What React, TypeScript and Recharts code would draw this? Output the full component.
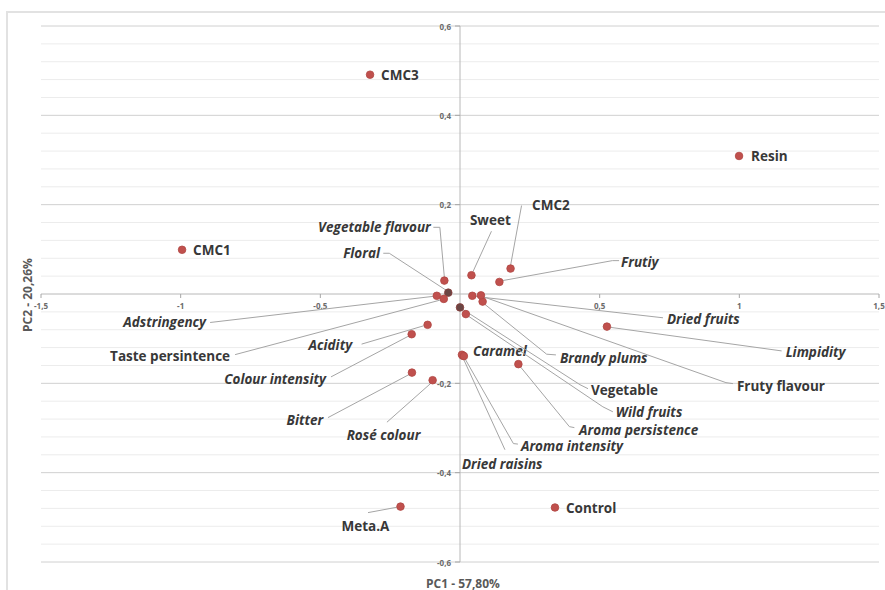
import React from 'react';
import { ScatterChart, Scatter, XAxis, YAxis, ReferenceLine } from 'recharts';

// ---- data ----
const names = [
  'CMC3', 'Resin', 'CMC1', 'CMC2', 'Frutiy', 'Sweet', 'Vegetable flavour', 'Floral',
  'Adstringency', 'Taste persintence', 'Acidity', 'Colour intensity', 'Bitter', 'Rosé colour',
  'Caramel', 'Dried raisins', 'Aroma intensity', 'Aroma persistence', 'Wild fruits', 'Vegetable',
  'Brandy plums', 'Dried fruits', 'Fruty flavour', 'Limpidity', 'Meta.A', 'Control',
];
const pc1 = [
  -0.322, 0.999, -0.995, 0.181, 0.141, 0.041, -0.056, -0.042,
  -0.083, -0.058, -0.116, -0.173, -0.172, -0.098,
  0.010, 0.007, 0.014, 0.209, 0.021, 0.000,
  0.081, 0.044, 0.075, 0.526, -0.213, 0.340,
];
const pc2 = [
  0.491, 0.309, 0.099, 0.057, 0.027, 0.042, 0.030, 0.003,
  -0.004, -0.011, -0.069, -0.090, -0.176, -0.193,
  -0.138, -0.136, -0.139, -0.157, -0.045, -0.030,
  -0.017, -0.004, -0.003, -0.073, -0.476, -0.478,
];

const xTickValues = [-1.5, -1, -0.5, 0.5, 1, 1.5];
const xTickLabels = ['-1,5', '-1', '-0,5', '0,5', '1', '1,5'];
const yTickValues = [0.6, 0.4, 0.2, -0.2, -0.4, -0.6];
const yTickLabels = ['0,6', '0,4', '0,2', '-0,2', '-0,4', '-0,6'];
const xTitle = 'PC1 - 57,80%';
const yTitle = 'PC2 - 20,26%';

const points = names.map((name, i) => ({ name, x: pc1[i], y: pc2[i] }));
const xTickData = xTickValues.map((v, i) => ({ x: v, y: 0, label: xTickLabels[i] }));
const yTickData = yTickValues.map((v, i) => ({ x: 0, y: v, label: yTickLabels[i] }));
const gridValues: number[] = [];
for (let k = -15; k <= 15; k++) gridValues.push(Math.round(k * 4) / 100);

// ---- label layout (pixel offsets relative to each point) ----
type Lay = { dx: number; dy: number; anchor: 'start' | 'end' | 'middle'; italic?: boolean; dark?: boolean; leader?: number[][] };
const layout: Record<string, Lay> = {
  'CMC3': { dx: 11, dy: 0, anchor: 'start' },
  'Resin': { dx: 12, dy: 0, anchor: 'start' },
  'CMC1': { dx: 11, dy: 0, anchor: 'start' },
  'Control': { dx: 11, dy: 0, anchor: 'start' },
  'Meta.A': { dx: -59, dy: 19, anchor: 'start', leader: [[-32.5, 6], [-3, 0.5]] },
  'CMC2': { dx: 21.5, dy: -63.5, anchor: 'start', leader: [[11, -63], [0, -3]] },
  'Sweet': { dx: -1.5, dy: -55, anchor: 'start', leader: [[20, -44], [1.5, -3.5]] },
  'Vegetable flavour': { dx: -13.6, dy: -53.3, anchor: 'end', italic: true, leader: [[-11, -53.3], [-4.5, -53.3], [0, -3.5]] },
  'Floral': { dx: -68.3, dy: -39.4, anchor: 'end', italic: true, dark: true, leader: [[-65, -39.4], [-59, -39.4], [-1.5, -2]] },
  'Adstringency': { dx: -230.7, dy: 26.7, anchor: 'end', italic: true, leader: [[-226.7, 26.7], [-3, 0.5]] },
  'Taste persintence': { dx: -213.7, dy: 57.4, anchor: 'end', leader: [[-208.7, 55.7], [-3, 1]] },
  'Acidity': { dx: -75.4, dy: 20, anchor: 'end', italic: true, leader: [[-66, 19.3], [-4, 1]] },
  'Colour intensity': { dx: -85.7, dy: 44.7, anchor: 'end', italic: true, leader: [[-80.7, 42.7], [-2.7, 1.7]] },
  'Bitter': { dx: -88.7, dy: 47, anchor: 'end', italic: true, leader: [[-84, 45], [-3, 2]] },
  'Rosé colour': { dx: -86, dy: 55, anchor: 'start', italic: true, leader: [[-45.7, 42], [-1.7, 3]] },
  'Caramel': { dx: 10.3, dy: -5, anchor: 'start', italic: true },
  'Dried raisins': { dx: 0, dy: 109.5, anchor: 'start', italic: true, leader: [[43, 95], [0.5, 2]] },
  'Aroma intensity': { dx: 57, dy: 90.2, anchor: 'start', italic: true, leader: [[54, 88], [49.5, 87.5], [1, 2.5]] },
  'Aroma persistence': { dx: 60.7, dy: 65.8, anchor: 'start', italic: true, leader: [[56, 63.5], [51, 62.5], [1.5, 2]] },
  'Wild fruits': { dx: 150, dy: 98.2, anchor: 'start', italic: true, leader: [[147, 97.7], [137, 92.7], [2, 1.7]] },
  'Vegetable': { dx: 131, dy: 82.3, anchor: 'start', dark: true, leader: [[128, 81.3], [120, 77.3], [2, 1.5]] },
  'Brandy plums': { dx: 77.3, dy: 56.6, anchor: 'start', italic: true, leader: [[73.3, 53.3], [64, 52.6], [1.3, 2]] },
  'Dried fruits': { dx: 194.7, dy: 23, anchor: 'start', italic: true, leader: [[190.7, 22], [1.7, 0.5]] },
  'Fruty flavour': { dx: 256, dy: 90.3, anchor: 'start', leader: [[252, 88.3], [245, 87.3], [2, 1.3]] },
  'Limpidity': { dx: 178.7, dy: 25.3, anchor: 'start', italic: true, leader: [[174.7, 24.3], [4, 0.8]] },
  'Frutiy': { dx: 121.7, dy: -20.3, anchor: 'start', italic: true, leader: [[119.7, -21.3], [113, -21.3], [3, -1.3]] },
};

const FONT = '"Open Sans", "Noto Sans", sans-serif';
const TEXT = '#383838';

const LabelShape = (props: any) => {
  const { cx, cy, payload } = props;
  const L = layout[payload.name];
  if (!L) return <g />;
  return (
    <g>
      {L.leader && (
        <polyline
          points={L.leader.map(([a, b]) => `${cx + a},${cy + b}`).join(' ')}
          fill="none"
          stroke="#a5a5a5"
          strokeWidth={1}
        />
      )}
      <text
        x={cx + L.dx}
        y={cy + L.dy}
        textAnchor={L.anchor}
        dominantBaseline="central"
        fontFamily={FONT}
        fontSize={13.5}
        fontWeight={700}
        fontStyle={L.italic ? 'italic' : 'normal'}
        fill={TEXT}
      >
        {payload.name}
      </text>
    </g>
  );
};

const DotShape = (props: any) => {
  const { cx, cy, payload } = props;
  const L = layout[payload.name];
  const dark = L && L.dark;
  return (
    <circle cx={cx} cy={cy} r={3.8} fill={dark ? '#6a4644' : '#c0504d'} stroke={dark ? '#8a3e3b' : '#b04643'} strokeWidth={0.8} />
  );
};

const XTickShape = (props: any) => {
  const { cx, cy, payload } = props;
  return (
    <g>
      <line x1={cx} y1={cy} x2={cx} y2={cy + 4} stroke="#a6a6a6" strokeWidth={1} />
      <text x={cx} y={cy + 11} textAnchor="middle" dominantBaseline="central" fontFamily={FONT} fontSize={8} fontWeight={700} fill="#6b6b6b">
        {payload.label}
      </text>
    </g>
  );
};

const YTickShape = (props: any) => {
  const { cx, cy, payload } = props;
  return (
    <g>
      <line x1={cx - 5} y1={cy} x2={cx} y2={cy} stroke="#a6a6a6" strokeWidth={1} />
      <text x={cx - 9} y={cy} textAnchor="end" dominantBaseline="central" fontFamily={FONT} fontSize={8} fontWeight={700} fill="#6b6b6b">
        {payload.label}
      </text>
    </g>
  );
};

export default function App() {
  return (
    <div style={{ position: 'absolute', left: 0, top: 0, width: 885, height: 590, background: '#ffffff', overflow: 'hidden' }}>
      <div
        style={{
          position: 'absolute', left: 6, top: 11, width: 900, height: 600,
          border: '2px solid #e2e2e2', boxSizing: 'border-box',
        }}
      />
      <div style={{ position: 'absolute', left: 0, top: 0 }}>
        <ScatterChart width={885} height={590} margin={{ top: 26, right: 6, bottom: 28, left: 41 }}>
          <XAxis type="number" dataKey="x" domain={[-1.5, 1.5]} hide />
          <YAxis type="number" dataKey="y" domain={[-0.6, 0.6]} hide />
          {gridValues.filter((v) => v !== 0).map((v) => {
            const major = Math.abs(Math.round(v * 100) % 20) === 0;
            return (
              <ReferenceLine
                key={`g${v}`}
                y={v}
                stroke={major ? '#d0d0d0' : '#ececec'}
                strokeWidth={1}
              />
            );
          })}
          <ReferenceLine x={0} stroke="#b8b8b8" strokeWidth={1} />
          <ReferenceLine y={0} stroke="#b8b8b8" strokeWidth={1} />
          <Scatter data={xTickData} shape={XTickShape} isAnimationActive={false} />
          <Scatter data={yTickData} shape={YTickShape} isAnimationActive={false} />
          <Scatter data={points} shape={LabelShape} isAnimationActive={false} />
          <Scatter data={points} shape={DotShape} isAnimationActive={false} />
        </ScatterChart>
      </div>
      <div
        style={{
          position: 'absolute', left: 463, top: 583, transform: 'translate(-50%, -50%)',
          fontFamily: FONT, fontSize: 12, fontWeight: 700, color: '#595959', whiteSpace: 'nowrap',
        }}
      >
        {xTitle}
      </div>
      <div
        style={{
          position: 'absolute', left: 27, top: 295, transform: 'translate(-50%, -50%) rotate(-90deg)',
          fontFamily: FONT, fontSize: 12, fontWeight: 700, color: '#595959', whiteSpace: 'nowrap',
        }}
      >
        {yTitle}
      </div>
    </div>
  );
}
